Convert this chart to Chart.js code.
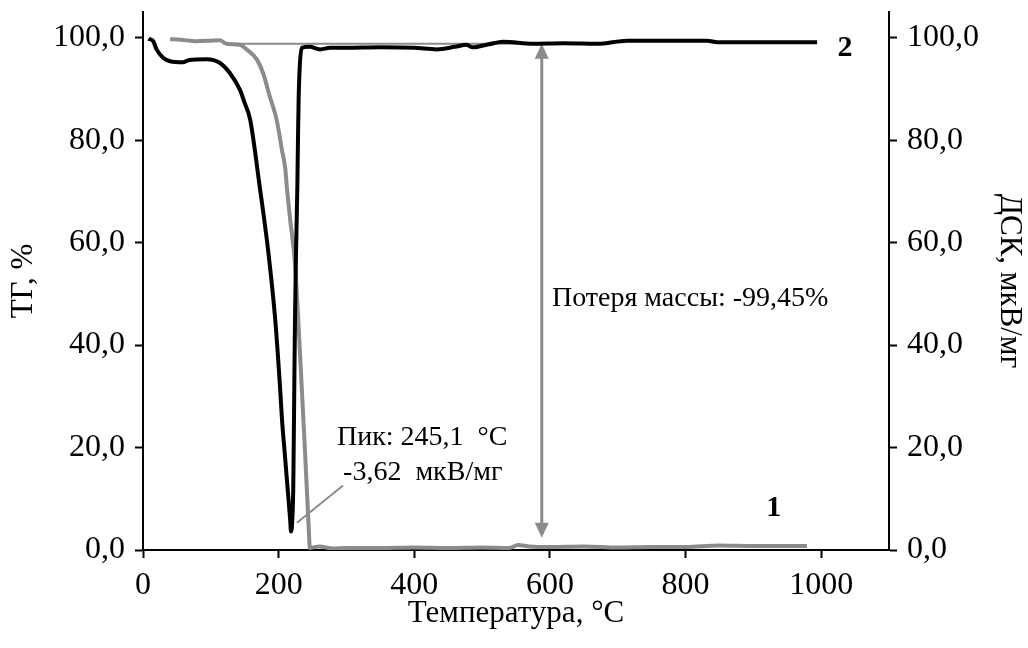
<!DOCTYPE html>
<html lang="ru">
<head>
<meta charset="utf-8">
<title>ТГ / ДСК</title>
<script src="https://cdn.jsdelivr.net/npm/chart.js@4.4.1/dist/chart.umd.min.js"></script>
<style>
    html, body { margin: 0; padding: 0; background: #ffffff; }
    #wrap { width: 1028px; height: 648px; }
</style>
</head>
<body>
<div id="wrap"><canvas id="tgDscChart" width="1028" height="648"></canvas></div>
<script>
// ------------------------------------------------------------ DATA ------------------------------------------------------------
// curve 1: TG, mass %
const tgTemp = [40, 55, 79, 99, 113, 123, 143, 153, 168, 177, 187, 197, 205, 210, 212, 217, 224, 231.5, 239, 243.8,
    246.2, 260, 280, 300, 350, 400, 450, 500, 540, 553, 570, 600, 650, 700, 750, 800, 850, 900, 979];
const tgMass = [99.7, 99.6, 99.3, 99.4, 99.5, 98.8, 98.6, 97.7, 95.7, 93.1, 88.5, 84.0, 78, 74.2, 71, 64.5, 56.0, 38.4, 18.9, 5.9,
    0.4, 0.7, 0.3, 0.4, 0.4, 0.5, 0.4, 0.5, 0.4, 1.0, 0.7, 0.6, 0.7, 0.5, 0.6, 0.6, 0.9, 0.8, 0.8];

// curve 2: DSC signal
const dscTemp = [8, 15, 20, 30, 40, 59, 67, 94, 113, 128, 143, 150, 158, 172, 185, 195, 202, 205, 209, 213,
    217, 218.2, 220, 221.6, 223.1, 224.1, 225.6, 227.6, 228.5, 229.5, 231, 234, 246, 261, 276, 300, 350, 400, 433, 460,
    477, 486, 510, 531, 575, 620, 670, 714, 780, 832, 847, 900, 994];
const dscSignal = [99.8, 99.3, 97.7, 96.0, 95.4, 95.2, 95.6, 95.8, 95.1, 93.1, 89.8, 87.2, 84.0, 71.0, 57.9, 44.9, 31.9, 25.4, 18.9, 12.4,
    5.9, 3.62, 5.5, 12.4, 31.9, 44.9, 57.9, 71.0, 80, 88, 94, 98.0, 98.2, 97.7, 98.0, 98.0, 98.1, 98.0, 97.7, 98.2,
    98.6, 98.1, 98.7, 99.2, 98.8, 98.9, 98.8, 99.4, 99.4, 99.4, 99.1, 99.1, 99.1];

const xTicks = [0, 200, 400, 600, 800, 1000];
const yTicks = [0, 20, 40, 60, 80, 100];

// mass loss marker: level of the start mass and the arrow down to the residue
const startLevel = 98.8;
const levelFrom = 118;
const levelTo = 680;
const arrowTemp = 588;
const arrowLow = 2.4;

// ------------------------------------------------------------ STYLE ------------------------------------------------------------
const FAMILY = "'Liberation Serif', 'Times New Roman', serif";
const GREY = '#8b8b8b';
const tickFont = { family: FAMILY, size: 32 };
const titleFont = { family: FAMILY, size: 31 };
const noteFont = '28px ' + FAMILY;

function toPoints(xs, ys) {
    return xs.map((t, i) => ({ x: t, y: ys[i] }));
}

function commaLabel(v) {
    return Number(v).toFixed(1).replace('.', ',');
}

function arrowHead(ctx, x, y, dir) {
    // dir = -1 points up, 1 points down
    ctx.beginPath();
    ctx.moveTo(x, y);
    ctx.lineTo(x - 7, y - dir * 15);
    ctx.lineTo(x + 7, y - dir * 15);
    ctx.closePath();
    ctx.fill();
}

// reference line, arrow and leader line sit under the curves
const markers = {
    id: 'markers',
    beforeDatasetsDraw(chart) {
        const { ctx, scales: { x, y } } = chart;
        ctx.save();
        ctx.strokeStyle = GREY;
        ctx.fillStyle = GREY;

        ctx.lineWidth = 2;
        ctx.beginPath();
        ctx.moveTo(x.getPixelForValue(levelFrom), y.getPixelForValue(startLevel));
        ctx.lineTo(x.getPixelForValue(levelTo), y.getPixelForValue(startLevel));
        ctx.stroke();

        const ax = x.getPixelForValue(arrowTemp);
        const aTop = y.getPixelForValue(startLevel);
        const aBot = y.getPixelForValue(arrowLow);
        ctx.lineWidth = 3;
        ctx.beginPath();
        ctx.moveTo(ax, aTop + 12);
        ctx.lineTo(ax, aBot - 12);
        ctx.stroke();
        arrowHead(ctx, ax, aTop, -1);
        arrowHead(ctx, ax, aBot, 1);

        // leader from the DSC minimum to the peak label
        ctx.lineWidth = 2;
        ctx.beginPath();
        ctx.moveTo(x.getPixelForValue(227), y.getPixelForValue(5.3));
        ctx.lineTo(x.getPixelForValue(295), y.getPixelForValue(12.6));
        ctx.stroke();
        ctx.restore();
    },
    afterDatasetsDraw(chart) {
        const { ctx, scales: { x, y } } = chart;
        ctx.save();
        ctx.fillStyle = '#000000';
        ctx.font = noteFont;
        ctx.textAlign = 'left';
        ctx.textBaseline = 'alphabetic';
        ctx.fillText('Пик: 245,1  °C', x.getPixelForValue(286), y.getPixelForValue(20.5));
        ctx.fillText('-3,62  мкВ/мг', x.getPixelForValue(295), y.getPixelForValue(13.7));
        ctx.textBaseline = 'middle';
        ctx.fillText('Потеря массы: -99,45%', x.getPixelForValue(603), y.getPixelForValue(49));

        ctx.font = 'bold 30px ' + FAMILY;
        ctx.textAlign = 'center';
        ctx.fillText('1', x.getPixelForValue(930), y.getPixelForValue(8.2));
        ctx.fillText('2', x.getPixelForValue(1035), y.getPixelForValue(98));
        ctx.restore();
    }
};

function valueAxis(position, titleText, width, titlePad) {
    return {
        type: 'linear',
        position: position,
        min: 0,
        max: 105,
        afterBuildTicks: s => { s.ticks = yTicks.map(v => ({ value: v })); },
        afterFit: s => { s.width = width; s.paddingTop = 0; s.paddingBottom = 0; },
        ticks: { font: tickFont, color: '#000000', padding: 10, callback: v => commaLabel(v) },
        grid: { display: true, drawOnChartArea: false, drawTicks: true, tickLength: 8, tickWidth: 2, tickColor: '#000000' },
        border: { display: true, color: '#000000', width: 2 },
        title: { display: true, text: titleText, font: titleFont, color: '#000000', padding: { top: titlePad, bottom: 0 } }
    };
}

// ------------------------------------------------------------ CHART ------------------------------------------------------------
const ctx = document.getElementById('tgDscChart').getContext('2d');
const tgDscChart = new Chart(ctx, {
    type: 'scatter',
    data: {
        datasets: [
            {
                label: 'ДСК',
                data: toPoints(dscTemp, dscSignal),
                yAxisID: 'y2',
                showLine: true,
                borderColor: '#000000',
                borderWidth: 4,
                pointRadius: 0,
                cubicInterpolationMode: 'monotone'
            },
            {
                label: 'ТГ',
                data: toPoints(tgTemp, tgMass),
                yAxisID: 'y',
                showLine: true,
                borderColor: GREY,
                borderWidth: 4,
                pointRadius: 0,
                cubicInterpolationMode: 'monotone'
            }
        ]
    },
    options: {
        responsive: false,
        animation: false,
        devicePixelRatio: 1,
        layout: { padding: { top: 12, left: 0, right: 0, bottom: 0 } },
        plugins: {
            legend: { display: false },
            tooltip: { enabled: false }
        },
        scales: {
            x: {
                type: 'linear',
                min: 0,
                max: 1100,
                afterBuildTicks: s => { s.ticks = xTicks.map(v => ({ value: v })); },
                afterFit: s => { s.height = 98; },
                ticks: { font: tickFont, color: '#000000', padding: 8, maxRotation: 0, autoSkip: false, callback: v => String(v) },
                grid: { display: true, drawOnChartArea: false, drawTicks: true, tickLength: 8, tickWidth: 2, tickColor: '#000000' },
                border: { display: true, color: '#000000', width: 2 },
                title: { display: true, text: 'Температура, °C', font: titleFont, color: '#000000', padding: { top: 0, bottom: 16 } }
            },
            y: valueAxis('left', 'ТГ, %', 143, 5),
            y2: valueAxis('right', 'ДСК, мкВ/мг', 139, 0)
        }
    },
    plugins: [markers]
});
</script>
</body>
</html>
